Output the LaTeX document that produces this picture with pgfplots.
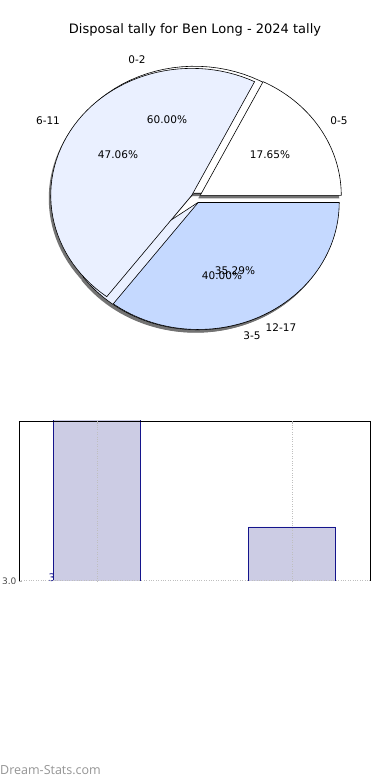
\documentclass[border=0pt]{standalone}
\usepackage{pgfplots}
\pgfplotsset{compat=1.18}
\usepackage{fontspec}
\setmainfont{DejaVu Sans}
\newfontfamily\footfont{Open Sans}
\definecolor{pieA}{RGB}{255,255,255}
\definecolor{pieB}{RGB}{234,240,255}
\definecolor{pieC}{RGB}{197,217,255}
\definecolor{barfill}{RGB}{204,204,228}
\definecolor{baredge}{RGB}{20,20,140}
% pie geometry (in px of the 390x780 frame, y measured upward)
\def\cx{196}\def\cy{582}\def\rx{141}\def\ry{127}\def\ex{5}
% one wedge: #1 start angle, #2 end angle, #3 fill
\newcommand{\piewedge}[3]{%
  \addplot[draw=black, line width=0.6pt, fill=#3, domain=#1:#2, samples=60, variable=\t]
    ({\cx+\ex*cos((#1+#2)/2)+\rx*cos(t)}, {\cy+\ex*sin((#1+#2)/2)+\ry*sin(t)})
    -- (axis cs:{\cx+\ex*cos((#1+#2)/2)},{\cy+\ex*sin((#1+#2)/2)}) -- cycle;}
\newcommand{\shadowwedge}[2]{%
  \addplot[draw=none, fill=black!55, domain=#1:#2, samples=60, variable=\t]
    ({\cx-2+\ex*cos((#1+#2)/2)+\rx*cos(t)}, {\cy-3+\ex*sin((#1+#2)/2)+\ry*sin(t)})
    -- (axis cs:{\cx-2+\ex*cos((#1+#2)/2)},{\cy-3+\ex*sin((#1+#2)/2)}) -- cycle;}
\begin{document}
\begin{tikzpicture}
\path[use as bounding box] (0pt,0pt) rectangle (390pt,780pt);
\begin{axis}[scale only axis, width=390pt, height=780pt, at={(0pt,0pt)}, anchor=south west,
  xmin=0, xmax=390, ymin=0, ymax=780, hide axis, clip=false]
  % shadows
  \shadowwedge{0}{216}
  \shadowwedge{216}{360}
  \shadowwedge{0}{63.53}
  \shadowwedge{63.53}{232.94}
  \shadowwedge{232.94}{360}
  % first pie: 0-2 (60%), 3-5 (40%)
  \piewedge{0}{216}{pieA}
  \piewedge{216}{360}{pieB}
  % second pie: 0-5 (17.65%), 6-11 (47.06%), 12-17 (35.29%)
  \piewedge{0}{63.53}{pieA}
  \piewedge{63.53}{232.94}{pieB}
  \piewedge{232.94}{360}{pieC}
  % labels
  \node[font=\fontsize{13}{15}\selectfont] at (axis cs:195,750) {Disposal tally for Ben Long - 2024 tally};
  \begin{scope}[every node/.style={font=\fontsize{10.5}{12}\selectfont}]
  \node at (axis cs:137,720) {0-2};
  \node at (axis cs:48,659) {6-11};
  \node at (axis cs:339,659) {0-5};
  \node at (axis cs:167,660) {60.00\%};
  \node at (axis cs:118,625) {47.06\%};
  \node at (axis cs:270,625) {17.65\%};
  \node at (axis cs:235,509) {35.29\%};
  \node at (axis cs:222,504) {40.00\%};
  \node at (axis cs:281,452) {12-17};
  \node at (axis cs:252,444) {3-5};
  \end{scope}
  \node[anchor=west, inner sep=0pt, text=black!42, font=\footfont\fontsize{12.5}{14}\selectfont] at (axis cs:0,10) {Dream-Stats.com};
  % clipped bar value label
  \begin{scope}
  \clip (axis cs:0,196) rectangle (axis cs:390,380);
  \node[text=baredge, font=\fontsize{10.5}{12}\selectfont] at (axis cs:52,202) {3};
  \end{scope}
\end{axis}
\begin{scope}
\clip (0pt,196pt) rectangle (390pt,380pt);
\begin{axis}[scale only axis, width=351pt, height=160pt, at={(19pt,199pt)}, anchor=south west,
  xmin=-0.4, xmax=1.4, ymin=3, ymax=3.4,
  separate axis lines,
  x axis line style={draw=none},
  y axis line style={black, line width=0.8pt},
  xtick={0,1}, xticklabels={,}, xtick pos=right,
  ytick={3.0}, yticklabels={3.0}, ytick pos=left,
  tick align=inside, major tick length=3pt,
  tick style={gray!60, line width=0.8pt},
  yticklabel style={font=\fontsize{9}{10}\selectfont, text=black!70, xshift=1pt},
  xmajorgrids, ymajorgrids,
  grid style={dotted, gray!50, line width=1pt},
  axis on top, clip=true]
  \addplot[ybar, bar width=87pt, fill=barfill, draw=baredge, line width=0.8pt] coordinates {(0,3.6) (1,3.135)};
  \draw[black, line width=0.8pt] (rel axis cs:0,1) -- (rel axis cs:1,1);
\end{axis}
\end{scope}
\end{tikzpicture}
\end{document}
